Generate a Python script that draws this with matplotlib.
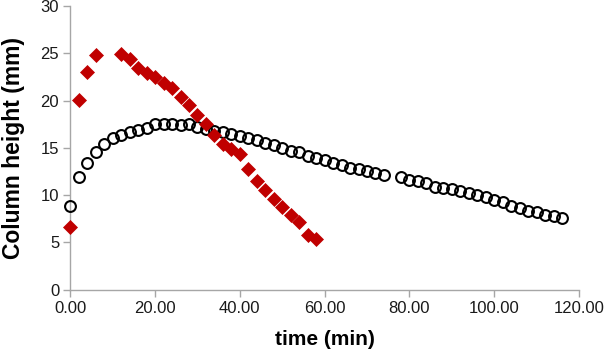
import matplotlib

matplotlib.use("Agg")
import matplotlib.pyplot as plt


# open circles: column height over time (min)
circle_time = [
    0, 2, 4, 6, 8, 10, 12, 14, 16, 18, 20, 22, 24, 26, 28, 30, 32, 34, 36, 38,
    40, 42, 44, 46, 48, 50, 52, 54, 56, 58, 60, 62, 64, 66, 68, 70, 72, 74,
    78, 80, 82, 84, 86, 88, 90, 92, 94, 96, 98, 100, 102, 104, 106, 108, 110,
    112, 114, 116,
]
circle_height = [
    8.85, 11.9, 13.4, 14.5, 15.4, 16.0, 16.3, 16.7, 16.9, 17.1, 17.5, 17.5,
    17.5, 17.4, 17.5, 17.2, 17.0, 16.8, 16.7, 16.5, 16.2, 16.0, 15.8, 15.5,
    15.3, 15.0, 14.7, 14.5, 14.1, 13.9, 13.75, 13.4, 13.2, 12.9, 12.75, 12.5,
    12.35, 12.1, 11.95, 11.6, 11.5, 11.3, 10.85, 10.75, 10.65, 10.4, 10.2,
    10.0, 9.8, 9.5, 9.3, 8.8, 8.6, 8.35, 8.25, 7.9, 7.8, 7.55,
]

# red diamonds
diamond_time = [
    0, 2, 4, 6, 12, 14, 16, 18, 20, 22, 24, 26, 28, 30, 32, 34, 36, 38, 40,
    42, 44, 46, 48, 50, 52, 54, 56, 58,
]
diamond_height = [
    6.6, 20.1, 23.0, 24.8, 24.9, 24.4, 23.4, 22.9, 22.5, 21.9, 21.35, 20.4,
    19.5, 18.5, 17.5, 16.3, 15.4, 14.85, 14.3, 12.75, 11.5, 10.5, 9.55, 8.75,
    7.9, 7.1, 5.8, 5.3,
]

x_ticks = [0, 20, 40, 60, 80, 100, 120]
y_ticks = [0, 5, 10, 15, 20, 25, 30]

plt.rcParams["font.family"] = ["Liberation Sans", "DejaVu Sans"]

fig = plt.figure(figsize=(6.07, 3.51), dpi=100)
ax = fig.add_axes([0.1158, 0.175, 0.838, 0.808])

ax.plot(circle_time, circle_height, linestyle="none", marker="o", markersize=7.8,
        markerfacecolor="none", markeredgecolor="black", markeredgewidth=1.5,
        zorder=3, clip_on=False)
ax.plot(diamond_time, diamond_height, linestyle="none", marker="D", markersize=7.3,
        markerfacecolor="#C00000", markeredgecolor="#C00000", markeredgewidth=0.5,
        zorder=4, clip_on=False)

ax.set_xlim(0, 120)
ax.set_ylim(0, 30)
ax.set_xticks(x_ticks)
ax.set_xticklabels([f"{t:.2f}" for t in x_ticks])
ax.set_yticks(y_ticks)

for side in ("top", "right"):
    ax.spines[side].set_visible(False)
for side in ("left", "bottom"):
    ax.spines[side].set_color("#A6A6A6")
    ax.spines[side].set_linewidth(1.0)

ax.tick_params(axis="both", direction="out", length=5, width=1.0,
               color="#A6A6A6", labelsize=12, labelcolor="#1a1a1a", pad=3)

ax.set_xlabel("time (min)", fontsize=15, fontweight="bold", labelpad=10)
ax.set_ylabel("Column height (mm)", fontsize=16.5, fontweight="bold")
ax.yaxis.set_label_coords(-0.089, 0.5)

fig.savefig("out.png", dpi=100)
